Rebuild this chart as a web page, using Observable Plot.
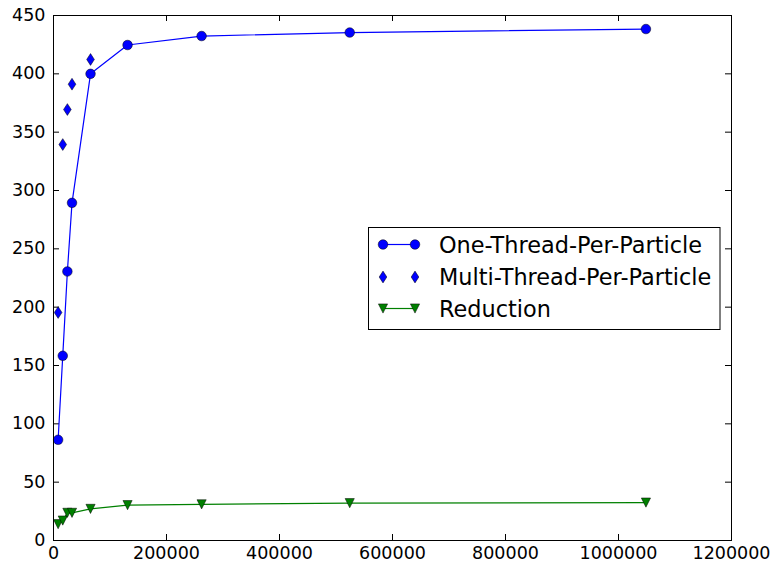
<!DOCTYPE html>
<html>
<head>
<meta charset="utf-8">
<script src="https://cdn.jsdelivr.net/npm/d3@7"></script>
<script src="https://cdn.jsdelivr.net/npm/@observablehq/plot@0.6"></script>
<style>
  html, body { margin: 0; padding: 0; background: #fff; }
  #chart { width: 773px; height: 570px; }
</style>
</head>
<body>
<div id="chart"></div>
<script>
// ---- data ----
const sizes = [8192, 16384, 24576, 32768, 65536, 131072, 262144, 524288, 1048576];
const oneThread = [86.3, 158.3, 230.6, 289.4, 400.0, 424.7, 432.4, 435.4, 438.4];
const multiSizes = [8192, 16384, 24576, 32768, 65536];
const multiThread = [195.4, 339.4, 369.4, 391.1, 412.3];
const reduction = [14.0, 17.1, 23.7, 23.7, 27.1, 30.3, 31.0, 32.0, 32.5];
const xTicks = [0, 200000, 400000, 600000, 800000, 1000000, 1200000];
const yTicks = [0, 50, 100, 150, 200, 250, 300, 350, 400, 450];
const seriesNames = ["One-Thread-Per-Particle", "Multi-Thread-Per-Particle", "Reduction"];

const oneData = sizes.map((x, i) => ({x, y: oneThread[i]}));
const multiData = multiSizes.map((x, i) => ({x, y: multiThread[i]}));
const redData = sizes.map((x, i) => ({x, y: reduction[i]}));

// custom symbols
const thinDiamond = {
  draw(ctx, size) {
    const r = Math.sqrt(size / Math.PI);
    ctx.moveTo(0, -r); ctx.lineTo(r * 0.65, 0); ctx.lineTo(0, r); ctx.lineTo(-r * 0.65, 0); ctx.closePath();
  }
};
const triDown = {
  draw(ctx, size) {
    const r = Math.sqrt(size / Math.PI);
    ctx.moveTo(-r, -r); ctx.lineTo(r, -r); ctx.lineTo(0, r); ctx.closePath();
  }
};

const W = 773, H = 570, mL = 53, mR = 42, mT = 15, mB = 30;
const plotH = H - mT - mB, plotW = W - mL - mR;
const tickLen = 6;

const svg = Plot.plot({
  width: W, height: H,
  marginLeft: mL, marginRight: mR, marginTop: mT, marginBottom: mB,
  style: {fontFamily: "DejaVu Sans", fontSize: "17.5px", color: "black", background: "white"},
  x: {domain: [0, 1200000]},
  y: {domain: [0, 450]},
  marks: [
    Plot.axisX(xTicks, {tickSize: 0, tickPadding: 6, label: null, tickFormat: d => String(d)}),
    Plot.axisY(yTicks, {tickSize: 0, tickPadding: 8, label: null, tickFormat: d => String(d)}),
    // inward ticks on all sides
    Plot.tickX(xTicks, {x: d => d, insetTop: plotH - tickLen, stroke: "black"}),
    Plot.tickX(xTicks, {x: d => d, insetBottom: plotH - tickLen, stroke: "black"}),
    Plot.tickY(yTicks, {y: d => d, insetRight: plotW - tickLen, stroke: "black"}),
    Plot.tickY(yTicks, {y: d => d, insetLeft: plotW - tickLen, stroke: "black"}),
    Plot.line(oneData, {x: "x", y: "y", stroke: "#0000ff", strokeWidth: 1.2}),
    Plot.line(redData, {x: "x", y: "y", stroke: "#008000", strokeWidth: 1.2}),
    Plot.dot(oneData, {x: "x", y: "y", r: 4.8, fill: "#0000ff", stroke: "black", strokeWidth: 0.5}),
    Plot.dot(multiData, {x: "x", y: "y", r: 5.9, symbol: thinDiamond, fill: "#0000ff", stroke: "black", strokeWidth: 0.5}),
    Plot.dot(redData, {x: "x", y: "y", r: 4.6, symbol: triDown, fill: "#008000", stroke: "black", strokeWidth: 0.5}),
    Plot.frame({stroke: "black", strokeWidth: 1})
  ]
});
document.getElementById("chart").appendChild(svg);

// legend (inside axes)
const g = d3.select(svg).append("g")
  .attr("font-family", "DejaVu Sans").attr("font-size", "22.4px").attr("text-anchor", "start");
g.append("rect").attr("x", 368.5).attr("y", 227.5).attr("width", 351.5).attr("height", 102)
  .attr("fill", "white").attr("stroke", "black").attr("stroke-width", 1);
const rows = [
  {name: seriesNames[0], color: "#0000ff", line: true, type: d3.symbolCircle, r: 4.8, y: 244.5},
  {name: seriesNames[1], color: "#0000ff", line: false, type: thinDiamond, r: 5.9, y: 277},
  {name: seriesNames[2], color: "#008000", line: true, type: triDown, r: 4.6, y: 308.5}
];
const lx0 = 383, lx1 = 415, tx = 439;
rows.forEach(row => {
  if (row.line) {
    g.append("line").attr("x1", lx0).attr("x2", lx1).attr("y1", row.y).attr("y2", row.y)
      .attr("stroke", row.color).attr("stroke-width", 1.2);
  }
  const sym = d3.symbol().type(row.type).size(Math.PI * row.r * row.r);
  [lx0, lx1].forEach(x => {
    g.append("path").attr("d", sym()).attr("transform", `translate(${x},${row.y})`)
      .attr("fill", row.color).attr("stroke", "black").attr("stroke-width", 0.5);
  });
  g.append("text").attr("x", tx).attr("y", row.y).attr("dy", "0.36em").attr("fill", "black")
    .attr("text-anchor", "start").text(row.name);
});
</script>
</body>
</html>
